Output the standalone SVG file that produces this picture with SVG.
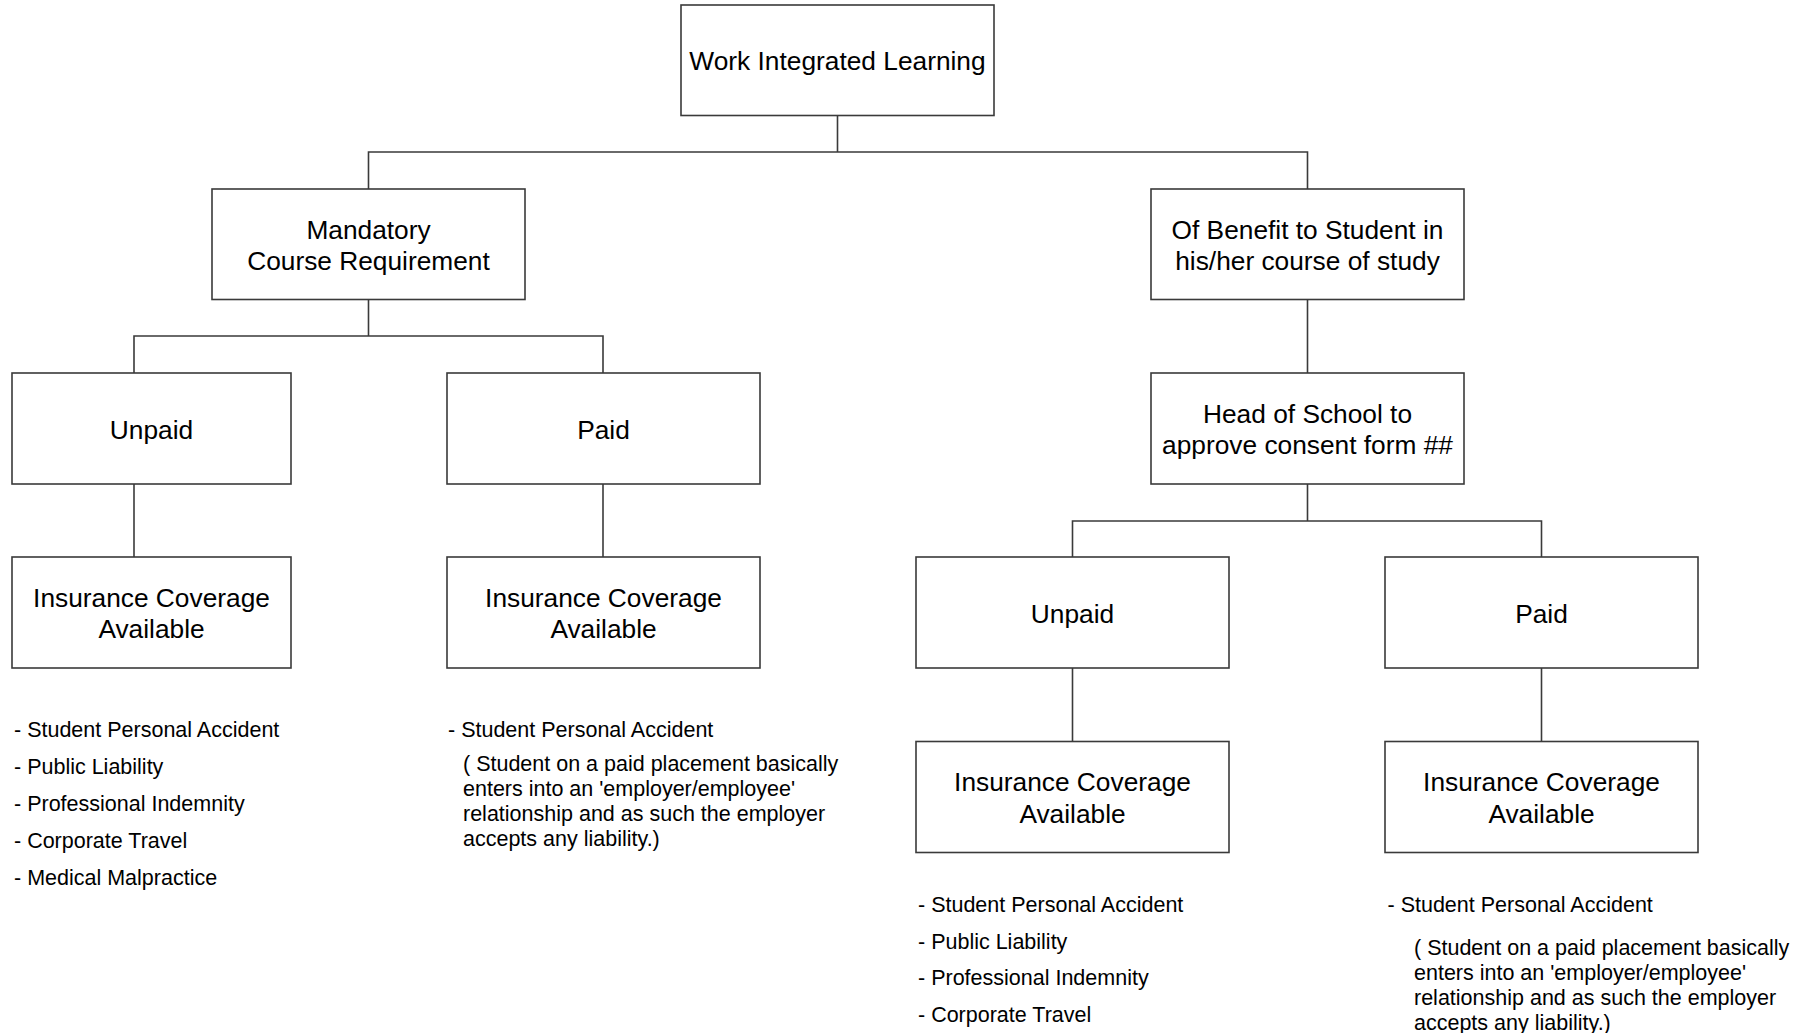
<svg xmlns="http://www.w3.org/2000/svg" width="1808" height="1033" viewBox="0 0 1808 1033">
<style>
.box{fill:#ffffff;stroke:#3a3a3a;stroke-width:1.6}
.lbl{font-family:"Liberation Sans",Arial,sans-serif;font-size:26.3px;fill:#000;text-anchor:middle}
.lst{font-family:"Liberation Sans",Arial,sans-serif;font-size:21.5px;fill:#000}
.con{fill:none;stroke:#3a3a3a;stroke-width:1.6}
</style>
<rect x="0" y="0" width="1808" height="1033" fill="#ffffff"/>
<g id="connectors">
<path class="con" d="M837.5 115.5V152M368.5 189V152H1307.5V189"/>
<path class="con" d="M368.5 299.5V336M134 373V336H603V373"/>
<path class="con" d="M134 484V557"/>
<path class="con" d="M603 484V557"/>
<path class="con" d="M1307.5 299.5V373"/>
<path class="con" d="M1307.5 484V521M1072.5 557V521H1541.5V557"/>
<path class="con" d="M1072.5 668V741.5"/>
<path class="con" d="M1541.5 668V741.5"/>
</g>
<g id="n-root">
<rect class="box" x="681" y="5" width="313" height="110.5"/>
<text class="lbl" x="837.5" y="69.5">Work Integrated Learning</text>
</g>
<g id="n-mandatory">
<rect class="box" x="212" y="189" width="313" height="110.5"/>
<text class="lbl" x="368.5" y="238.5">Mandatory</text>
<text class="lbl" x="368.5" y="270">Course Requirement</text>
</g>
<g id="n-benefit">
<rect class="box" x="1151" y="189" width="313" height="110.5"/>
<text class="lbl" x="1307.5" y="238.5">Of Benefit to Student in</text>
<text class="lbl" x="1307.5" y="270">his/her course of study</text>
</g>
<g id="n-unpaid-l">
<rect class="box" x="12" y="373" width="279" height="111"/>
<text class="lbl" x="151.5" y="438.5">Unpaid</text>
</g>
<g id="n-paid-l">
<rect class="box" x="447" y="373" width="313" height="111"/>
<text class="lbl" x="603.5" y="438.5">Paid</text>
</g>
<g id="n-head">
<rect class="box" x="1151" y="373" width="313" height="111"/>
<text class="lbl" x="1307.5" y="422.5">Head of School to</text>
<text class="lbl" x="1307.5" y="454">approve consent form ##</text>
</g>
<g id="n-ins-unpaid-l">
<rect class="box" x="12" y="557" width="279" height="111"/>
<text class="lbl" x="151.5" y="606.5">Insurance Coverage</text>
<text class="lbl" x="151.5" y="638">Available</text>
</g>
<g id="n-ins-paid-l">
<rect class="box" x="447" y="557" width="313" height="111"/>
<text class="lbl" x="603.5" y="606.5">Insurance Coverage</text>
<text class="lbl" x="603.5" y="638">Available</text>
</g>
<g id="n-unpaid-r">
<rect class="box" x="916" y="557" width="313" height="111"/>
<text class="lbl" x="1072.5" y="622.5">Unpaid</text>
</g>
<g id="n-paid-r">
<rect class="box" x="1385" y="557" width="313" height="111"/>
<text class="lbl" x="1541.5" y="622.5">Paid</text>
</g>
<g id="n-ins-unpaid-r">
<rect class="box" x="916" y="741.5" width="313" height="111"/>
<text class="lbl" x="1072.5" y="791">Insurance Coverage</text>
<text class="lbl" x="1072.5" y="822.5">Available</text>
</g>
<g id="n-ins-paid-r">
<rect class="box" x="1385" y="741.5" width="313" height="111"/>
<text class="lbl" x="1541.5" y="791">Insurance Coverage</text>
<text class="lbl" x="1541.5" y="822.5">Available</text>
</g>
<g id="list-unpaid-l" class="lst">
<text x="14" y="736.5">- Student Personal Accident</text>
<text x="14" y="773.5">- Public Liability</text>
<text x="14" y="810.5">- Professional Indemnity</text>
<text x="14" y="847.5">- Corporate Travel</text>
<text x="14" y="884.5">- Medical Malpractice</text>
</g>
<g id="list-paid-l" class="lst">
<text x="448" y="736.5">- Student Personal Accident</text>
<text x="463" y="770.5">( Student on a paid placement basically</text>
<text x="463" y="795.5">enters into an 'employer/employee'</text>
<text x="463" y="820.5">relationship and as such the employer</text>
<text x="463" y="845.5">accepts any liability.)</text>
</g>
<g id="list-unpaid-r" class="lst">
<text x="918" y="912">- Student Personal Accident</text>
<text x="918" y="948.5">- Public Liability</text>
<text x="918" y="985">- Professional Indemnity</text>
<text x="918" y="1021.5">- Corporate Travel</text>
</g>
<g id="list-paid-r" class="lst">
<text x="1387.5" y="912">- Student Personal Accident</text>
<text x="1414" y="955">( Student on a paid placement basically</text>
<text x="1414" y="980">enters into an 'employer/employee'</text>
<text x="1414" y="1005">relationship and as such the employer</text>
<text x="1414" y="1030">accepts any liability.)</text>
</g>
</svg>
